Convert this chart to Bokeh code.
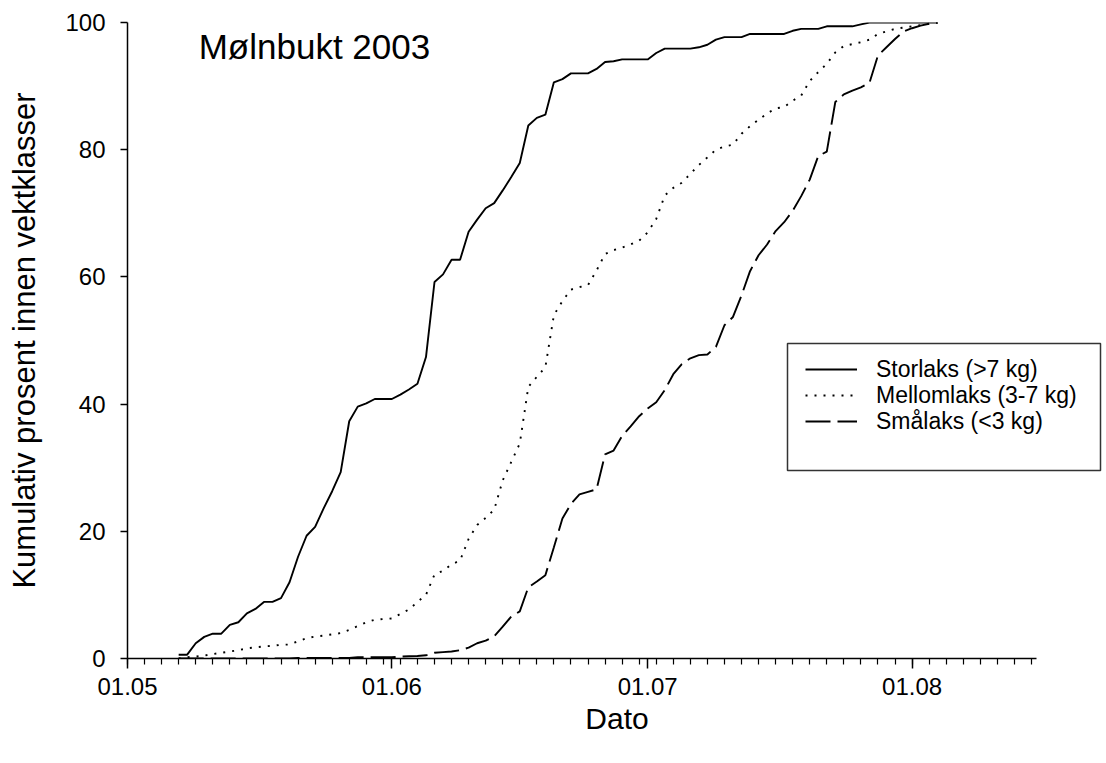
from bokeh.plotting import figure
from bokeh.models import Range1d, FixedTicker, Legend, LegendItem, Label, BoxAnnotation
from bokeh.embed import file_html
from bokeh.resources import INLINE

# Day of year (2003) for each daily value, 7 May .. 4 August
days = list(range(127, 217))

# Cumulative percentage within each weight class
storlaks = [
    0.6, 0.6, 2.4, 3.4, 3.9, 3.9, 5.3, 5.7, 7.1, 7.8,
    8.9, 8.9, 9.5, 12.0, 16.0, 19.3, 20.7, 23.6, 26.3, 29.3,
    37.3, 39.6, 40.1, 40.8, 40.8, 40.8, 41.5, 42.3, 43.2, 47.4,
    59.2, 60.4, 62.7, 62.7, 67.1, 69.0, 70.8, 71.6, 73.6, 75.7,
    77.9, 83.8, 85.0, 85.5, 90.6, 91.1, 92.0, 92.0, 92.0, 92.7,
    93.8, 93.9, 94.2, 94.2, 94.2, 94.2, 95.2, 95.9, 95.9, 95.9,
    95.9, 96.1, 96.5, 97.3, 97.7, 97.7, 97.7, 98.2, 98.2, 98.2,
    98.2, 98.2, 98.7, 99.0, 99.0, 99.0, 99.4, 99.4, 99.4, 99.4,
    99.7, 100.0, 100.0, 100.0, 100.0, 100.0, 100.0, 100.0, 100.0, 100.0,
]
mellomlaks = [
    0.0, 0.2, 0.3, 0.45, 0.7, 0.9, 1.1, 1.3, 1.6, 1.75,
    1.9, 2.0, 2.15, 2.2, 2.7, 3.2, 3.45, 3.6, 3.8, 4.0,
    4.5, 5.1, 5.7, 6.1, 6.2, 6.3, 7.0, 7.7, 8.9,
    10.0, 13.2, 13.8, 14.8, 15.4, 18.8, 21.0, 22.1, 23.4, 28.0,
    30.9, 33.8, 42.7, 44.3, 45.8, 54.0, 56.2, 58.0, 58.4, 58.7,
    61.0, 63.6, 64.2, 64.6, 65.1, 65.7, 67.0, 69.1, 72.8, 74.0,
    74.8, 76.2, 77.6, 78.8, 80.0, 80.5, 80.8, 82.5, 83.7, 84.7,
    85.7, 86.5, 86.7, 87.7, 88.5, 90.8, 92.2, 93.5, 95.3, 96.3,
    96.6, 96.9, 97.3, 98.2, 98.6, 99.0, 99.2, 99.4, 99.6, 99.8, 100.0,
]
smalaks = [
    0.0, 0.0, 0.0, 0.0, 0.0, 0.0, 0.0, 0.0, 0.0, 0.0,
    0.0, 0.0, 0.0, 0.0, 0.1, 0.1, 0.1, 0.1, 0.1, 0.1,
    0.1, 0.2, 0.2, 0.2, 0.2, 0.2,
    0.3, 0.35, 0.4, 0.5, 0.9, 1.0, 1.1, 1.3, 1.7, 2.4,
    2.8, 3.5, 5.0, 6.6, 7.4, 11.2, 12.1, 13.1, 17.5, 22.0,
    24.3, 25.8, 26.2, 26.6, 32.1, 32.7, 35.0, 36.5, 38.1, 39.3,
    40.3, 42.2, 44.7, 46.3, 47.2, 47.7, 47.8, 49.0, 52.4, 53.7,
    57.1, 60.9, 63.4, 65.1, 67.2, 68.6, 70.4, 72.7, 75.3, 79.0,
    79.7, 87.5, 88.7, 89.3, 89.8, 90.5, 94.8, 96.1, 97.4, 98.6,
    99.1, 99.5, 99.8, 100.0,
]

# Axis ticks: month starts (major) and every second day (minor)
month_starts = [121, 152, 182, 213]
tick_labels = ["01.05", "01.06", "01.07", "01.08"]
minor_days = list(range(121, 228, 2))
y_ticks = [0, 20, 40, 60, 80, 100]

series_labels = ["Storlaks (>7 kg)", "Mellomlaks (3-7 kg)", "Smålaks (<3 kg)"]
title_text = "Mølnbukt 2003"

assert len(storlaks) == len(days) == len(mellomlaks) == len(smalaks)

FONT = "Liberation Sans"

p = figure(
    width=1106, height=763,
    output_backend="svg", toolbar_location=None,
    x_range=Range1d(121, 235.8), y_range=Range1d(0, 100),
    min_border_left=127, min_border_right=0,
    min_border_top=22, min_border_bottom=105,
)
p.outline_line_color = None
p.xgrid.visible = False
p.ygrid.visible = False
p.background_fill_color = "white"
p.border_fill_color = "white"

r1 = p.line(days, storlaks, line_color="black", line_width=1.9)
r2 = p.line(days, mellomlaks, line_color="black", line_width=1.9, line_dash="2 7")
r3 = p.line(days, smalaks, line_color="black", line_width=1.9, line_dash="25 7")

# X axis
xa = p.xaxis[0]
xa.bounds = (121, 227.6)
xa.ticker = FixedTicker(ticks=month_starts, minor_ticks=minor_days)
xa.major_label_overrides = {d: t for d, t in zip(month_starts, tick_labels)}
xa.axis_label = "Dato"

# Y axis
ya = p.yaxis[0]
ya.ticker = FixedTicker(ticks=y_ticks)
ya.axis_label = "Kumulativ prosent innen vektklasser"

for ax in (xa, ya):
    ax.axis_line_color = "black"
    ax.axis_line_width = 1.5
    ax.major_tick_line_color = "black"
    ax.major_tick_line_width = 1.5
    ax.minor_tick_line_width = 1.2
    ax.major_tick_in = 0
    ax.minor_tick_in = 0
    ax.major_label_text_font = FONT
    ax.major_label_text_font_size = "24px"
    ax.major_label_text_color = "black"
    ax.axis_label_text_font = FONT
    ax.axis_label_text_font_style = "normal"
    ax.axis_label_text_color = "black"

xa.minor_tick_line_color = "black"
ya.minor_tick_line_color = None
xa.axis_label_text_font_size = "30px"
ya.axis_label_text_font_size = "31px"

xa.major_tick_out = 10
xa.minor_tick_out = 6
xa.major_label_standoff = 9
xa.axis_label_standoff = 4
ya.major_tick_out = 7
ya.major_label_standoff = 15
ya.axis_label_standoff = 20

# Title inside the plot area
p.add_layout(Label(
    x=129.35, y=96.3, text=title_text,
    text_font=FONT, text_font_size="35px", text_color="black",
    text_align="left", text_baseline="alphabetic",
))

# Legend frame, then one borderless legend row per series
p.add_layout(BoxAnnotation(
    left=660, right=973, bottom=188, top=315,
    left_units="screen", right_units="screen",
    bottom_units="screen", top_units="screen",
    fill_color="white", fill_alpha=1.0,
    line_color="#333333", line_width=1.5, line_alpha=1.0,
))

ROW_H = 40
row_bottoms = [269, 243, 217]
for lab, rend, yb in zip(series_labels, [r1, r2, r3], row_bottoms):
    p.add_layout(Legend(
        items=[LegendItem(label=lab, renderers=[rend])],
        location=(678, yb),
        orientation="vertical",
        border_line_color=None,
        background_fill_alpha=0.0,
        padding=0, spacing=0, margin=0,
        label_height=ROW_H, glyph_height=ROW_H, glyph_width=52, label_standoff=19,
        label_text_font=FONT, label_text_font_size="23px", label_text_color="black",
    ))

open("out.html", "w").write(file_html(p, INLINE))
